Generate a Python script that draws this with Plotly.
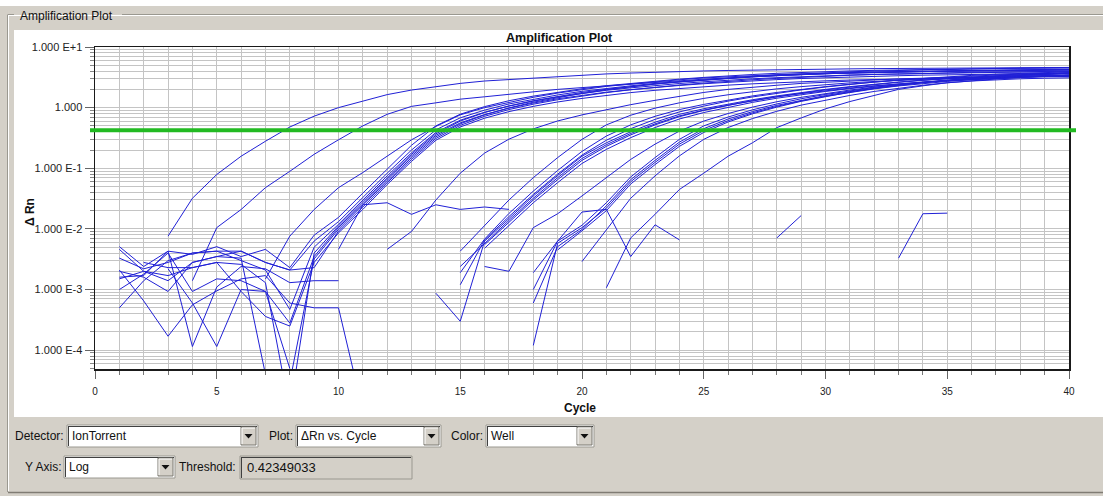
import plotly.graph_objects as go

# ---------------- data ----------------
cycles = list(range(1, 41))
threshold = 0.42349033

# each well: (first plotted cycle, ΔRn values from that cycle on)
wA = (3, [0.0076, 0.032, 0.079, 0.158, 0.279, 0.479, 0.724, 1.0, 1.28, 1.64, 1.95, 2.24, 2.51, 2.75, 2.9, 3.1,
          3.3, 3.45, 3.6, 3.72, 3.85, 3.95, 4.03, 4.1, 4.17, 4.22, 4.27, 4.32, 4.36, 4.4, 4.43, 4.46, 4.49, 4.52,
          4.54, 4.56, 4.58, 4.6])
wB = (4, [0.0014, 0.0105, 0.0209, 0.0479, 0.0891, 0.170, 0.295, 0.50, 0.776, 1.05, 1.2, 1.38, 1.51, 1.66, 1.82,
          2.0, 2.14, 2.29, 2.45, 2.63, 2.82, 2.95, 3.09, 3.24, 3.39, 3.5, 3.63, 3.72, 3.8, 3.87, 3.94, 4.0, 4.05,
          4.1, 4.15, 4.2, 4.25])
wC = (7, [0.0015, 0.0076, 0.0209, 0.0479, 0.0851, 0.158, 0.295, 0.49, 0.76, 1.0, 1.23, 1.48, 1.74, 2.0, 2.24,
          2.45, 2.69, 2.88, 3.09, 3.24, 3.39, 3.5, 3.6, 3.7, 3.78, 3.85, 3.9, 3.95, 4.0, 4.03, 4.06, 4.09, 4.12,
          4.15])
wD = (12, [0.0046, 0.0091, 0.030, 0.083, 0.178, 0.302, 0.447, 0.603, 0.759, 0.933, 1.12, 1.32, 1.55, 1.78, 2.0,
           2.19, 2.34, 2.51, 2.63, 2.75, 2.88, 2.98, 3.06, 3.13, 3.2, 3.26, 3.31, 3.36, 3.4])
wE = (10, [0.0046, 0.025, 0.027, 0.0174, 0.025, 0.021, 0.023, 0.021])

b1 = (1, [0.0051, 0.0024, 0.0043, 0.0038, 0.0051, 0.0035, 0.0046, 0.0023, 0.0079, 0.0155, 0.039, 0.095, 0.24,
          0.50, 0.78, 1.04, 1.3, 1.55, 1.8, 2.05, 2.3, 2.52, 2.75, 2.95, 3.15, 3.35, 3.52, 3.68, 3.82, 3.93, 4.03,
          4.12, 4.2, 4.27, 4.33, 4.38, 4.42, 4.46, 4.49, 4.52])
b2 = (1, [0.0046, 0.0020, 0.0014, 0.0028, 0.0035, 0.0043, 0.0028, 0.0021, 0.0063, 0.0132, 0.033, 0.083, 0.20,
          0.43, 0.68, 0.91, 1.15, 1.38, 1.62, 1.86, 2.09, 2.29, 2.51, 2.69, 2.88, 3.09, 3.24, 3.39, 3.55, 3.63,
          3.72, 3.80, 3.89, 3.98, 3.98, 4.07, 4.07, 4.17, 4.17, 4.17])
b3 = (1, [0.0033, 0.0022, 0.0028, 0.0040, 0.0043, 0.0030, 0.0021, 0.00047, 0.005, 0.0119, 0.030, 0.075, 0.18,
          0.39, 0.62, 0.84, 1.06, 1.28, 1.5, 1.72, 1.93, 2.12, 2.32, 2.5, 2.67, 2.84, 2.99, 3.12, 3.25, 3.35, 3.45,
          3.53, 3.6, 3.67, 3.72, 3.77, 3.81, 3.85, 3.88, 3.9])
b4 = (1, [0.0015, 0.0020, 0.0017, 0.0023, 0.0028, 0.0026, 0.0013, 0.00001, 0.004, 0.0112, 0.028, 0.070, 0.17,
          0.37, 0.60, 0.83, 1.07, 1.3, 1.54, 1.78, 2.01, 2.23, 2.45, 2.65, 2.85, 3.04, 3.21, 3.37, 3.52, 3.64, 3.75,
          3.85, 3.93, 4.0, 4.07, 4.13, 4.18, 4.22, 4.26, 4.3])
b5 = (1, [0.0010, 0.0018, 0.0040, 0.00093, 0.0015, 0.0014, 0.00093, 0.00028, 0.0035, 0.0106, 0.026, 0.066, 0.16,
          0.35, 0.56, 0.77, 0.98, 1.19, 1.4, 1.6, 1.8, 1.98, 2.16, 2.32, 2.48, 2.63, 2.77, 2.9, 3.02, 3.12, 3.21,
          3.29, 3.36, 3.43, 3.49, 3.54, 3.59, 3.63, 3.66, 3.69])
b6 = (1, [0.0020, 0.0016, 0.00093, 0.0028, 0.0035, 0.0033, 0.00004, 0.00003, 0.0032, 0.0099, 0.025, 0.062, 0.15,
          0.33, 0.54, 0.76, 0.99, 1.23, 1.47, 1.72, 1.97, 2.21, 2.45, 2.67, 2.88, 3.09, 3.28, 3.46, 3.62, 3.77, 3.9,
          4.02, 4.12, 4.21, 4.29, 4.36, 4.42, 4.47, 4.52, 4.56])
b7 = (1, [0.0005, 0.0014, 0.0030, 0.0040, 0.0043, 0.0043, 0.0028, 0.0021, 0.0023, 0.0092, 0.023, 0.058, 0.14,
          0.31, 0.51, 0.72, 0.93, 1.14, 1.35, 1.56, 1.77, 1.97, 2.17, 2.36, 2.54, 2.72, 2.88, 3.03, 3.17, 3.3, 3.42,
          3.52, 3.61, 3.69, 3.76, 3.82, 3.87, 3.92, 3.96, 3.99])
b8 = (2, [0.0028, 0.0023, 0.0023, 0.0028, 0.00093, 0.00036, 0.00025, 0.0028, 0.0086, 0.021, 0.054, 0.13, 0.29,
          0.48, 0.67, 0.86, 1.05, 1.24, 1.42, 1.6, 1.77, 1.93, 2.08, 2.22, 2.35, 2.47, 2.58, 2.68, 2.77, 2.85, 2.92,
          2.98, 3.04, 3.09, 3.13, 3.17, 3.21, 3.24, 3.27])

n1 = (1, [0.0021, 0.00065, 0.00017, 0.00056, 0.00095, 0.0015, 0.0017, 0.0006, 0.0005, 0.0005, 0.00001])
n2 = (1, [0.0016, 0.0017, 0.0043, 0.000115, 0.0011, 0.0024, 0.0022, 0.0013, 0.0014, 0.0014])
n3 = (3, [0.0022, 0.0006, 0.000115, 0.001, 0.00093, 0.00005])

m2a = (15, [0.0043, 0.0115, 0.03, 0.07, 0.15, 0.3, 0.52, 0.75, 0.98, 1.2, 1.42, 1.63, 1.84, 2.04, 2.22, 2.4,
            2.56, 2.7, 2.83, 2.94, 3.04, 3.12, 3.19, 3.25, 3.3, 3.34])
m2b = (15, [0.0019, 0.0068, 0.018, 0.042, 0.092, 0.19, 0.34, 0.52, 0.72, 0.93, 1.13, 1.34, 1.56, 1.78, 2.0,
            2.22, 2.44, 2.65, 2.84, 3.02, 3.18, 3.32, 3.45, 3.56, 3.66, 3.75])
m2c = (15, [0.0012, 0.0066, 0.016, 0.037, 0.08, 0.165, 0.29, 0.45, 0.64, 0.85, 1.06, 1.28, 1.5, 1.73, 1.96,
            2.19, 2.42, 2.64, 2.85, 3.05, 3.23, 3.4, 3.55, 3.68, 3.8, 3.9])
m2d = (14, [0.00087, 0.0003, 0.0063, 0.015, 0.035, 0.076, 0.158, 0.263, 0.40, 0.575, 0.776, 0.96, 1.15, 1.35,
            1.56, 1.78, 2.0, 2.22, 2.44, 2.65, 2.85, 3.03, 3.2, 3.36, 3.5, 3.63, 3.74])
m2e = (15, [0.0024, 0.0058, 0.0138, 0.032, 0.07, 0.145, 0.245, 0.375, 0.54, 0.73, 0.91, 1.1, 1.3, 1.5, 1.7, 1.9,
            2.1, 2.29, 2.47, 2.63, 2.78, 2.92, 3.04, 3.15, 3.25, 3.33])
m2f = (16, [0.0055, 0.013, 0.03, 0.065, 0.135, 0.23, 0.355, 0.52, 0.71, 0.9, 1.1, 1.31, 1.52, 1.74, 1.96, 2.18,
            2.4, 2.61, 2.81, 3.0, 3.17, 3.33, 3.47, 3.6, 3.71])
m2g = (16, [0.0048, 0.0115, 0.027, 0.058, 0.12, 0.205, 0.32, 0.47, 0.65, 0.83, 1.02, 1.22, 1.43, 1.64, 1.85,
            2.06, 2.26, 2.46, 2.64, 2.81, 2.97, 3.11, 3.24, 3.36, 3.46])

m3a = (16, [0.0024, 0.002, 0.0105, 0.0178, 0.035, 0.07, 0.14, 0.25, 0.41, 0.6, 0.8, 1.02, 1.25, 1.48, 1.72,
            1.95, 2.18, 2.4, 2.6, 2.79, 2.96, 3.12, 3.26, 3.38, 3.48])
m3b = (18, [0.0019, 0.0063, 0.0115, 0.027, 0.072, 0.15, 0.3, 0.5, 0.7, 0.92, 1.15, 1.4, 1.65, 1.9, 2.15, 2.4,
            2.63, 2.85, 3.05, 3.23, 3.4, 3.55, 3.68])
m3c = (18, [0.0006, 0.0051, 0.0098, 0.024, 0.065, 0.135, 0.27, 0.45, 0.65, 0.86, 1.09, 1.33, 1.58, 1.84, 2.1,
            2.36, 2.6, 2.83, 3.04, 3.23, 3.41, 3.57, 3.71])
m3d = (18, [0.00012, 0.0058, 0.0105, 0.022, 0.06, 0.125, 0.25, 0.42, 0.61, 0.82, 1.05, 1.29, 1.54, 1.79, 2.04,
            2.28, 2.5, 2.7, 2.88, 3.04, 3.18, 3.3, 3.4])
m3e = (19, [0.0045, 0.0093, 0.02, 0.055, 0.115, 0.23, 0.39, 0.58, 0.79, 1.02, 1.27, 1.53, 1.8, 2.07, 2.33, 2.57,
            2.8, 3.01, 3.2, 3.37, 3.52, 3.65])
m3f = (20, [0.0029, 0.0095, 0.032, 0.075, 0.16, 0.3, 0.47, 0.66, 0.87, 1.1, 1.34, 1.59, 1.85, 2.1, 2.34, 2.57,
            2.78, 2.97, 3.14, 3.29, 3.42])
wF = (21, [0.00107, 0.0071, 0.0174, 0.0447, 0.083, 0.158, 0.263, 0.468, 0.676, 0.955, 1.26, 1.58, 2.0, 2.29,
           2.57, 2.75, 2.88, 2.99, 3.06, 3.1])
wG = (18, [0.001, 0.0063, 0.019, 0.021, 0.0035, 0.0117, 0.0066])
s1 = (28, [0.0071, 0.0166])
s2 = (33, [0.0033, 0.0178, 0.0182])

wells = [n1, n2, n3, b1, b2, b3, b4, b5, b6, b7, b8, wA, wB, wC, wD, wE,
         m2a, m2b, m2c, m2d, m2e, m2f, m2g, m3a, m3b, m3c, m3d, m3e, m3f, wF, wG, s1, s2]

y_tick_vals = [1e-4, 1e-3, 1e-2, 1e-1, 1, 10]
y_tick_text = ["1.000 E-4", "1.000 E-3", "1.000 E-2", "1.000 E-1", "1.000", "1.000 E+1"]
x_tick_vals = [0, 5, 10, 15, 20, 25, 30, 35, 40]

detector_name = "IonTorrent"
plot_name = "ΔRn vs. Cycle"
color_name = "Well"
yaxis_name = "Log"

# ---------------- figure ----------------
W, H = 1103, 496
L, R, T, B = 95, 34, 47, 127
PW, PH = W - L - R, H - T - B


def px(x):
    return (x - L) / PW


def py(y):
    return (H - B - y) / PH


FONT = "Liberation Sans, Arial, sans-serif"
GRAY = "#d4d0c8"
CURVE = "rgb(32,32,214)"

fig = go.Figure()
for start, vals in wells:
    xs = cycles[start - 1:start - 1 + len(vals)]
    fig.add_trace(go.Scatter(x=xs, y=vals, mode="lines", line=dict(color=CURVE, width=1),
                             hoverinfo="skip", showlegend=False))

minor_y = [k * 10.0 ** e for e in range(-5, 1) for k in range(2, 10)]

fig.update_layout(
    width=W, height=H, autosize=False,
    margin=dict(l=L, r=R, t=T, b=B, pad=0),
    paper_bgcolor=GRAY, plot_bgcolor="white",
    hovermode=False,
    font=dict(family=FONT, size=11, color="#222"),
    xaxis=dict(range=[0, 40], tickvals=x_tick_vals, ticktext=[str(v) for v in x_tick_vals],
               showgrid=True, gridcolor="#c4c4c4", gridwidth=1, zeroline=False,
               showline=True, linecolor="#1a1a1a", linewidth=1.5, mirror=True,
               ticks="outside", ticklen=8, tickcolor="#666", tickfont=dict(size=10),
               ticklabelstandoff=4,
               minor=dict(dtick=1, tick0=0, showgrid=True, gridcolor="#c4c4c4", gridwidth=1,
                          ticks="outside", ticklen=4, tickcolor="#777")),
    yaxis=dict(type="log", range=[-4.31, 1.0], tickvals=y_tick_vals, ticktext=y_tick_text,
               showgrid=True, gridcolor="#c4c4c4", gridwidth=1, zeroline=False,
               showline=True, linecolor="#1a1a1a", linewidth=1.5, mirror=True,
               ticks="outside", ticklen=9, tickcolor="#666", tickfont=dict(size=11),
               minor=dict(tickvals=minor_y, showgrid=True, gridcolor="#c4c4c4", gridwidth=1,
                          ticks="outside", ticklen=4, tickcolor="#888")),
)

shapes = []


def rect(x0, y0, x1, y1, fill=None, line=None, lw=1, layer="above"):
    shapes.append(dict(type="rect", xref="paper", yref="paper", x0=px(x0), x1=px(x1), y0=py(y1), y1=py(y0),
                       fillcolor=fill if fill else "rgba(0,0,0,0)",
                       line=dict(color=line if line else "rgba(0,0,0,0)", width=lw if line else 0),
                       layer=layer))


def hline(x0, x1, y, color, lw=1, layer="above"):
    shapes.append(dict(type="line", xref="paper", yref="paper", x0=px(x0), x1=px(x1), y0=py(y), y1=py(y),
                       line=dict(color=color, width=lw), layer=layer))


def vline(x, y0, y1, color, lw=1, layer="above"):
    shapes.append(dict(type="line", xref="paper", yref="paper", x0=px(x), x1=px(x), y0=py(y0), y1=py(y1),
                       line=dict(color=color, width=lw), layer=layer))


# window background pieces
rect(0, 0, W, 6, fill="white", layer="below")
rect(14, 30, W, 417, fill="white", layer="below")
# group box frame
hline(8, 14, 14.5, "#9a9890")
hline(122, W, 14.5, "#9a9890")
hline(8, W, 15.5, "white")
vline(7.5, 14.5, 492, "#9a9890")
vline(8.5, 15.5, 491, "white")
hline(8, W, 492.5, "#807c74", lw=1.5)


def dropdown(x0, x1, y0, y1):
    rect(x0, y0, x1, y1, fill="white", line="#9a9890")
    hline(x0 + 1, x1 - 1, y0 + 1.5, "#404040")
    vline(x0 + 1.5, y0 + 1, y1 - 1, "#404040")
    bx0, bx1 = x1 - 17, x1 - 2
    rect(bx0, y0 + 2, bx1, y1 - 2, fill=GRAY, line="#7a7870")
    hline(bx0 + 1, bx1 - 1, y0 + 3, "white")
    vline(bx0 + 1, y0 + 3, y1 - 3, "white")
    cx, cy = (bx0 + bx1) / 2, (y0 + y1) / 2
    shapes.append(dict(type="path", xref="paper", yref="paper",
                       path=f"M {px(cx - 4)},{py(cy - 2)} L {px(cx + 4)},{py(cy - 2)} L {px(cx)},{py(cy + 2.5)} Z",
                       fillcolor="#111", line=dict(width=0), layer="above"))


dropdown(67, 258, 425, 447)
dropdown(296, 441, 425, 447)
dropdown(486, 594, 425, 447)
dropdown(64, 175, 456, 478)
# threshold text box (read-only, sunken)
rect(240, 456, 412, 479, fill=GRAY, line="#9a9890")
hline(241, 411, 457.5, "#404040")
vline(241.5, 457, 478, "#404040")

# threshold line (green), slightly wider than the plot area
shapes.append(dict(type="line", xref="paper", yref="y", x0=px(90), x1=px(1076), y0=threshold, y1=threshold,
                   line=dict(color="rgb(34,186,34)", width=4), layer="above"))

fig.update_layout(shapes=shapes)

ann = []


def text(x, y, s, anchor="left", size=12, bold=False, color="#111", angle=0):
    ann.append(dict(xref="paper", yref="paper", x=px(x), y=py(y), text=f"<b>{s}</b>" if bold else s,
                    showarrow=False, xanchor=anchor, yanchor="middle", textangle=angle,
                    font=dict(family=FONT, size=size, color=color)))


text(18, 16, "Amplification Plot", size=12)
text(559, 38, "Amplification Plot", anchor="center", size=12.5, bold=True)
text(580, 408, "Cycle", anchor="center", size=12, bold=True)
text(30, 212, "Δ Rn", anchor="center", size=12, bold=True, angle=-90)
text(66, 436, "Detector:", anchor="right")
text(70, 436, detector_name)
text(295, 436, "Plot:", anchor="right")
text(299, 436, plot_name)
text(485, 436, "Color:", anchor="right")
text(489, 436, color_name)
text(63, 467, "Y Axis:", anchor="right")
text(67, 467, yaxis_name)
text(238, 467, "Threshold:", anchor="right")
text(245, 467, f"{threshold:.8f}", size=13)

fig.update_layout(annotations=ann)

fig.write_html("out.html", config={"displayModeBar": False, "staticPlot": True},
               post_script="document.body.style.margin='0';document.body.style.overflow='hidden';")
